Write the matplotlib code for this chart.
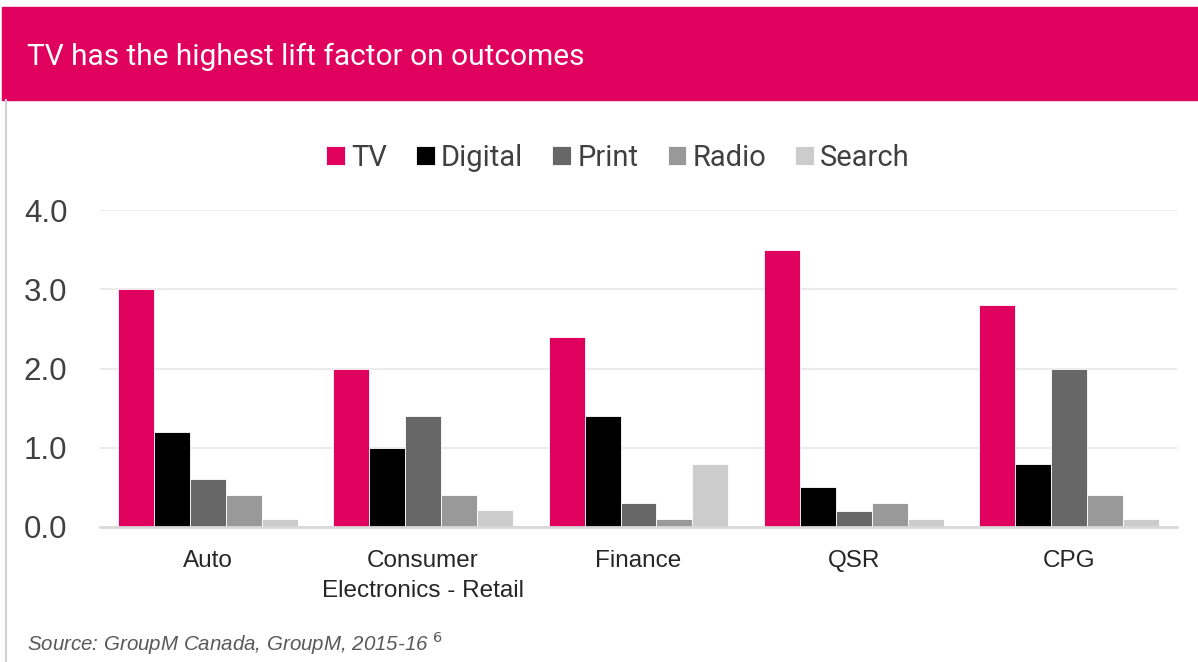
import numpy as np
import matplotlib.pyplot as plt
from matplotlib.patches import Rectangle
from matplotlib.lines import Line2D

categories = ["Auto", "Consumer\nElectronics - Retail", "Finance", "QSR", "CPG"]
series = ["TV", "Digital", "Print", "Radio", "Search"]
tv = [3.0, 2.0, 2.4, 3.5, 2.8]
digital = [1.2, 1.0, 1.4, 0.5, 0.8]
print_ = [0.6, 1.4, 0.3, 0.2, 2.0]
radio = [0.4, 0.4, 0.1, 0.3, 0.4]
search = [0.1, 0.22, 0.8, 0.1, 0.1]
colors = ["#e0005e", "#000000", "#676767", "#999999", "#cccccc"]
yticks = [0.0, 1.0, 2.0, 3.0, 4.0]

narrow = ["Roboto", "DejaVu Sans"]
plain = ["Liberation Sans", "DejaVu Sans"]

fig = plt.figure(figsize=(11.98, 6.62), dpi=100)
W, H = 1198, 662

# header band and left rule
fig.patches.append(Rectangle((2 / W, 1 - 100 / H), 1 - 2 / W, 93 / H,
                             transform=fig.transFigure, color="#e0005e", zorder=0))
fig.lines.append(Line2D([6 / W, 6 / W], [0, 1 - 100 / H], transform=fig.transFigure,
                        color="#d0d0d0", lw=1.5))
fig.text(27 / W, 1 - 57 / H, "TV has the highest lift factor on outcomes",
         color="white", fontsize=21.5, family=narrow, va="center", ha="left")

ax = fig.add_axes([100 / W, 1 - 527 / H, 1077 / W, 317 / H])
x = np.arange(len(categories))
width = 0.167
values = [tv, digital, print_, radio, search]
for i, (name, vals) in enumerate(zip(series, values)):
    ax.bar(x + (i - 2) * width, vals, width, color=colors[i], label=name,
           edgecolor="white", linewidth=0.6, zorder=3)

ax.set_xlim(-0.5, len(categories) - 0.5)
ax.set_ylim(0, 4)
ax.set_yticks(yticks)
ax.set_yticklabels([f"{v:.1f}" for v in yticks], fontsize=22.5, color="#404040", family=plain)
ax.set_xticks(x)
ax.set_xticklabels(categories, fontsize=17.5, color="#262626", family=plain, linespacing=1.5)
ax.tick_params(axis="y", length=0, pad=23.5)
ax.tick_params(axis="x", length=0, pad=16.5)
ax.grid(axis="y", color="#ebebeb", lw=1.5, zorder=0)
for s in ["top", "right", "left"]:
    ax.spines[s].set_visible(False)
ax.spines["bottom"].set_color("#d9d9d9")
ax.spines["bottom"].set_linewidth(2)
ax.spines["bottom"].set_zorder(4)

leg = ax.legend(loc="center", bbox_to_anchor=(618 / W, 1 - 158 / H),
                bbox_transform=fig.transFigure, ncol=5, frameon=False,
                prop={"family": narrow, "size": 21}, handlelength=0.65, handleheight=0.65,
                handletextpad=0.2, columnspacing=1.0, labelcolor="#404040")

fig.text(27 / W, 1 - 643 / H, "Source: GroupM Canada, GroupM, 2015-16 $^{6}$",
         fontsize=14.8, style="italic", color="#595959", family=plain, va="center")

fig.savefig("out.png", dpi=100)
